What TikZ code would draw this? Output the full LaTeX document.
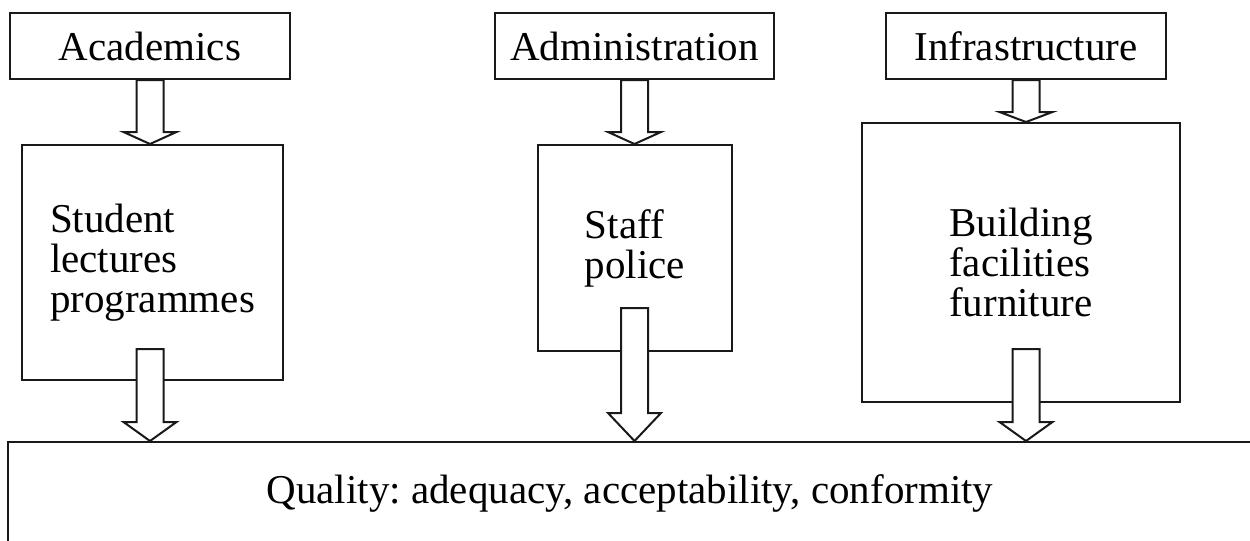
\documentclass[tikz,border=0pt]{standalone}
\usepackage{fontspec}
\setmainfont{Liberation Serif}
\usepackage{tikz}
\usetikzlibrary{positioning,calc}
\frenchspacing
\newcommand{\hollowarrow}[3]{%
  \draw[blk] let \p1=(#1), \p2=(#2) in
    (\x1-6.75pt,\y1) -- (\x1-6.75pt,\y2+#3) -- (\x1-13.25pt,\y2+#3) -- (\x2,\y2)
    -- (\x1+13.25pt,\y2+#3) -- (\x1+6.75pt,\y2+#3) -- (\x1+6.75pt,\y1) -- cycle;}

\begin{document}
\begin{tikzpicture}[x=0.5pt,y=-0.5pt,font=\fontsize{20.5}{20}\selectfont,
  box/.style={rectangle,draw=black!90,line width=1pt,fill=white,inner sep=0pt,align=left},
  blk/.style={draw=black!90,line width=1pt,fill=white,line join=miter}]
\clip (0,0) rectangle (1250,541);
% top row
\node[box,minimum width=140pt,minimum height=33pt] (acad) at (150,46) {Academics};
\node[box,minimum width=139.5pt,minimum height=33pt] (admin) at (634.5,46) {Administration};
\node[box,minimum width=140pt,minimum height=33pt] (infra) at (1026,46) {Infrastructure};
% middle row
\node[box,minimum width=130.5pt,minimum height=117.5pt] (stud) at (152.5,262.5) {Student\\lectures\\programmes};
\node[box,minimum width=97pt,minimum height=103pt] (staff) at (635,248) {Staff\\police};
\node[box,minimum width=159pt,minimum height=139.5pt] (build) at (1021,262.5) {Building\\facilities\\furniture};
% quality
\node[box,minimum width=646pt,minimum height=78pt] (qual) at (654,520) {};
\node (qualtxt) at (630,493) {Quality: adequacy, acceptability, conformity};
% arrows
\hollowarrow{acad.south}{acad.south |- stud.north}{6pt}
\hollowarrow{admin.south}{admin.south |- staff.north}{6pt}
\hollowarrow{infra.south}{infra.south |- build.north}{5pt}
\hollowarrow{$(acad.south |- stud.south)+(0,-32)$}{acad.south |- qual.north}{9.5pt}
\hollowarrow{$(admin.south |- staff.south)+(0,-44)$}{admin.south |- qual.north}{14pt}
\hollowarrow{$(infra.south |- build.south)+(0,-54)$}{infra.south |- qual.north}{9.5pt}
\end{tikzpicture}
\end{document}
